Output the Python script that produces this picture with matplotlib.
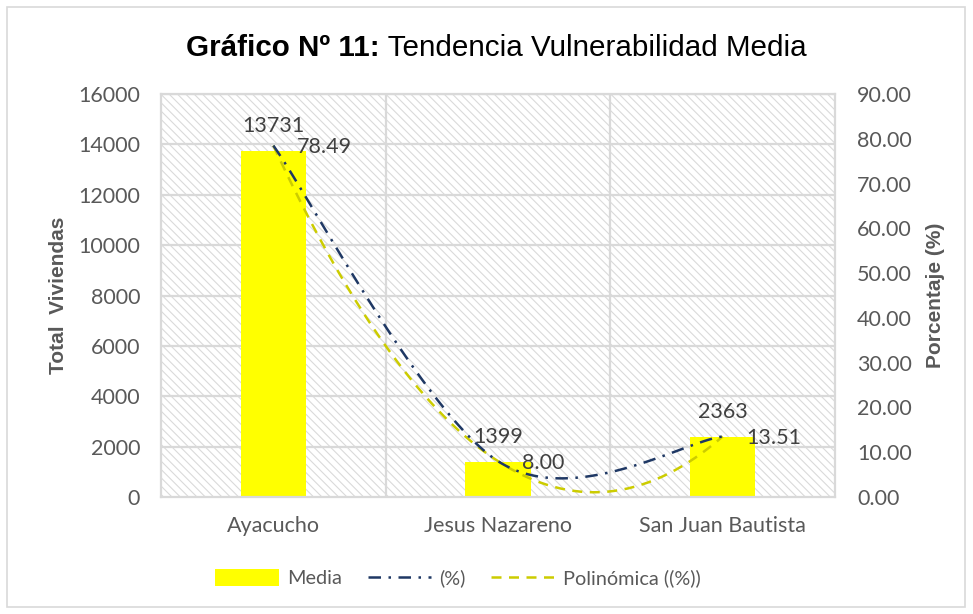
import numpy as np
import matplotlib
matplotlib.use('Agg')
from matplotlib import pyplot as plt
from matplotlib.patches import Rectangle, Patch
from matplotlib.lines import Line2D

# data
categorias = ['Ayacucho', 'Jesus Nazareno', 'San Juan Bautista']
media = [13731, 1399, 2363]
porcentaje = [78.49, 8.00, 13.51]

left_ticks = list(range(0, 16001, 2000))
right_ticks = list(range(0, 91, 10))

NUM_FONT = 'Lato'
ARIAL = 'Liberation Sans'
TXT_GRAY = '#595959'
LBL_GRAY = '#404040'
GRID = '#D9D9D9'
NAVY = '#1F3864'
TREND = '#CCCC00'


def catmull_rom(xs, ys, n=60):
    """smoothed line like excel: catmull-rom through the points"""
    pts = np.column_stack([xs, ys])
    pts = np.vstack([pts[0], pts, pts[-1]])
    out = []
    for i in range(1, len(pts) - 2):
        p0, p1, p2, p3 = pts[i - 1], pts[i], pts[i + 1], pts[i + 2]
        t = np.linspace(0, 1, n)[:, None]
        seg = 0.5 * ((2 * p1) + (-p0 + p2) * t + (2 * p0 - 5 * p1 + 4 * p2 - p3) * t ** 2
                     + (-p0 + 3 * p1 - 3 * p2 + p3) * t ** 3)
        out.append(seg)
    out = np.vstack(out)
    return out[:, 0], out[:, 1]


plt.rcParams['hatch.linewidth'] = 0.8
plt.rcParams['hatch.color'] = '#DADADA'

fig = plt.figure(figsize=(9.73, 6.14), dpi=100)
fig.patches.append(Rectangle((7 / 973, 7 / 614), 958 / 973, 600 / 614, transform=fig.transFigure,
                             fill=False, edgecolor=GRID, linewidth=1.2))

ax = fig.add_axes([161 / 973, 117 / 614, 674 / 973, 403 / 614])
ax2 = ax.twinx()

x = np.arange(len(categorias))

# hatched plot area
ax.add_patch(Rectangle((0, 0), 1, 1, transform=ax.transAxes, facecolor='white',
                       hatch='\\\\\\\\', edgecolor='#DADADA', linewidth=0, zorder=0))
ax.set_xlim(-0.5, 2.5)
ax.set_ylim(0, 16000)
ax.set_yticks(left_ticks)
for v in left_ticks[1:]:
    ax.axhline(v, color=GRID, linewidth=1.6, zorder=1)
for v in [0.5, 1.5]:
    ax.axvline(v, color=GRID, linewidth=1.6, zorder=1)

ax.bar(x, media, width=0.29, color='#FFFF00', zorder=2)
for xi, v in zip(x, media):
    ax.annotate(str(v), (xi, v), xytext=(0, 18), textcoords='offset points', ha='center', va='center',
                fontsize=15.5, family=NUM_FONT, color=LBL_GRAY, zorder=5)

ax.set_xticks(x)
ax.set_xticklabels(categorias, fontsize=15.5, family=NUM_FONT, color=TXT_GRAY)
ax.set_yticklabels([str(v) for v in left_ticks], fontsize=15.5, family=NUM_FONT, color=TXT_GRAY)
ax.tick_params(axis='x', length=0, pad=14)
ax.tick_params(axis='y', length=0, pad=15)
ax.set_ylabel('Total  Viviendas', fontsize=15, family=ARIAL, fontweight='bold', color=TXT_GRAY, labelpad=7)
for s in ax.spines.values():
    s.set_color(GRID)
    s.set_linewidth(1.6)

# secondary axis, percentages
ax2.set_ylim(0, 90)
ax2.set_yticks(right_ticks)
ax2.set_yticklabels(['{:.2f}'.format(v) for v in right_ticks], fontsize=15.5, family=NUM_FONT, color=TXT_GRAY)
ax2.tick_params(axis='y', length=0, pad=16)
ax2.set_ylabel('Porcentaje (%)', fontsize=15, family=ARIAL, fontweight='bold', color=TXT_GRAY, labelpad=10)
for s in ax2.spines.values():
    s.set_visible(False)

# smoothed line, computed in pixel-like units so the curve shape matches
sx, sy = 224.7, 403 / 90
cx, cy = catmull_rom(x * sx, np.array(porcentaje) * sy)
ax2.plot(cx / sx, cy / sy, color=NAVY, linewidth=1.8, linestyle=(0, (5, 3, 1, 3)), zorder=4)

# polinomica order 2 trendline
coef = np.polyfit(x, porcentaje, 2)
tx = np.linspace(0, 2, 200)
ax2.plot(tx, np.polyval(coef, tx), color=TREND, linewidth=1.8, linestyle=(0, (4, 3)), zorder=3)

for xi, v in zip(x, porcentaje):
    ax2.annotate('{:.2f}'.format(v), (xi, v), xytext=(17, -1), textcoords='offset points', ha='left',
                 va='center', fontsize=15.5, family=NUM_FONT, color=LBL_GRAY, zorder=5)

ax.set_zorder(ax2.get_zorder() - 1)
ax2.patch.set_visible(False)

# title: bold part then regular part, centred together
title_y = 1 - 48 / 614
fig.canvas.draw()
r = fig.canvas.get_renderer()
t1 = fig.text(0, title_y, 'Gráfico Nº 11:', ha='left', va='center', fontsize=21.3, family=ARIAL, fontweight='bold')
t2 = fig.text(0, title_y, ' Tendencia Vulnerabilidad Media', ha='left', va='center', fontsize=21.3, family=ARIAL)
w1 = t1.get_window_extent(r).width
w2 = t2.get_window_extent(r).width
start = 496 - (w1 + w2) / 2
t1.set_x(start / 973)
t2.set_x((start + w1) / 973)

handles = [Patch(facecolor='#FFFF00', edgecolor='none'),
           Line2D([], [], color=NAVY, linewidth=1.8, linestyle=(0, (5, 3, 1, 3))),
           Line2D([], [], color=TREND, linewidth=1.8, linestyle=(0, (4, 3)))]
fig.legend(handles, ['Media', '(%)', 'Polinómica ((%))'], loc='center', bbox_to_anchor=(458 / 973, 1 - 578 / 614),
           ncol=3, frameon=False, prop={'family': NUM_FONT, 'size': 14.3}, labelcolor=TXT_GRAY,
           handlelength=3.2, handleheight=1.0, handletextpad=0.4, columnspacing=1.3)

plt.savefig('out.png', dpi=100)
